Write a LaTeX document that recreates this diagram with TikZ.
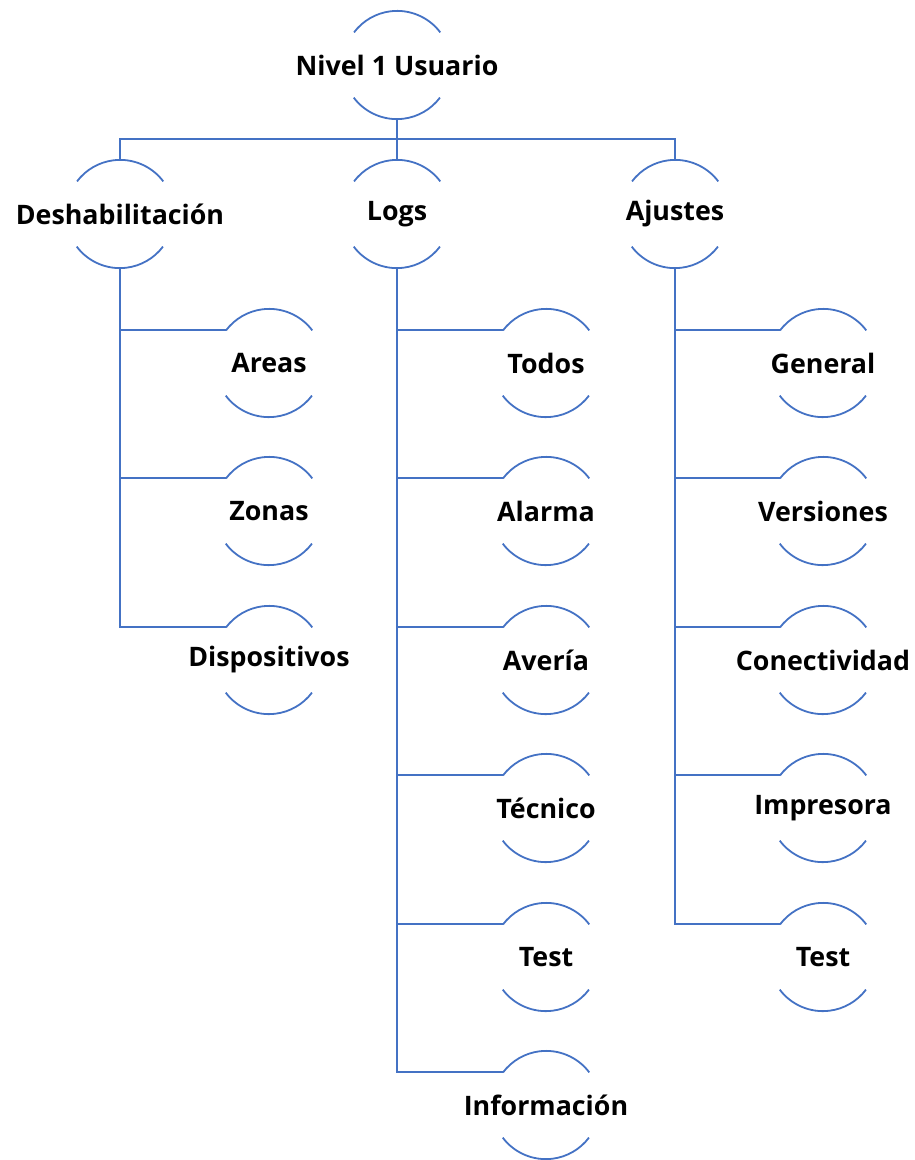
\documentclass[tikz,border=0pt]{standalone}
\usepackage{fontspec}
\setmainfont{Open Sans}
\definecolor{lineblue}{RGB}{68,114,196}
\begin{document}
\begin{tikzpicture}[x=1pt,y=-1pt,
  item/.style={circle,minimum size=108pt,inner sep=0pt,draw=none},
  conn/.style={draw=lineblue,line width=1.8pt}]
\useasboundingbox (0,0) rectangle (914,1160);
\newcommand{\itm}[4]{\node[item] (#1) at (#2,#3) {\makebox[0pt]{\raisebox{-2pt}{\fontsize{26.8}{27}\selectfont\bfseries #4}}};}
\itm{root}{397}{65}{Nivel 1 Usuario}
\itm{des}{120}{214}{Deshabilitación}
\itm{logs}{397}{214}{Logs}
\itm{aju}{675}{214}{Ajustes}
\itm{areas}{269}{363}{Areas}
\itm{zonas}{269}{511}{Zonas}
\itm{disp}{269}{660}{Dispositivos}
\itm{todos}{546}{363}{Todos}
\itm{alarma}{546}{511}{Alarma}
\itm{averia}{546}{660}{Avería}
\itm{tecnico}{546}{808}{Técnico}
\itm{testl}{546}{957}{Test}
\itm{info}{546}{1105}{Información}
\itm{general}{823}{363}{General}
\itm{vers}{823}{511}{Versiones}
\itm{conec}{823}{660}{Conectividad}
\itm{impr}{823}{808}{Impresora}
\itm{testa}{823}{957}{Test}
\foreach \n in {root,des,logs,aju,areas,zonas,disp,todos,alarma,averia,tecnico,testl,info,general,vers,conec,impr,testa}{
  \draw[conn] (\n.37) arc[start angle=37,end angle=143,radius=54pt];
  \draw[conn] (\n.217) arc[start angle=217,end angle=323,radius=54pt];
}
\coordinate (bus) at (397,139);
\draw[conn] (root.south) -- (bus);
\draw[conn] (bus) -| (des.north);
\draw[conn] (bus) -| (aju.north);
\draw[conn] (bus) -- (logs.north);
\foreach \c in {areas,zonas,disp}{\draw[conn] (des.south) |- (\c.143);}
\foreach \c in {todos,alarma,averia,tecnico,testl,info}{\draw[conn] (logs.south) |- (\c.143);}
\foreach \c in {general,vers,conec,impr,testa}{\draw[conn] (aju.south) |- (\c.143);}
\end{tikzpicture}
\end{document}
